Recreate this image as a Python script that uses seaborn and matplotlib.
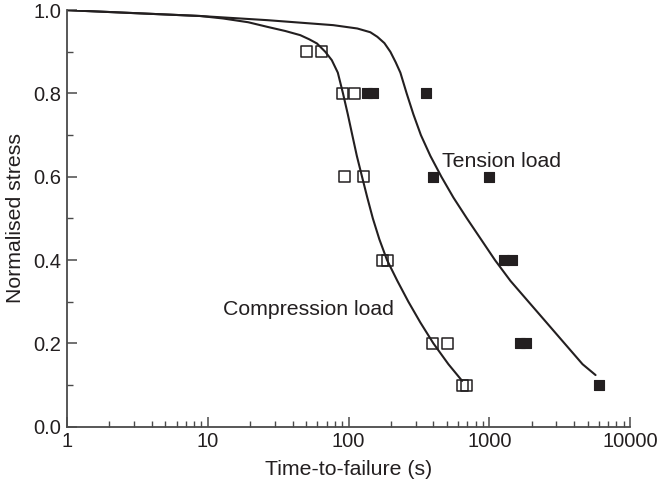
import matplotlib
matplotlib.use("Agg")
import matplotlib.pyplot as plt
import matplotlib.ticker as mticker
import pandas as pd
import seaborn as sns

# Measured times to failure (s) at each normalised stress level
comp_stress = [0.9, 0.9, 0.8, 0.8, 0.6, 0.6, 0.4, 0.4, 0.2, 0.2, 0.1, 0.1]
comp_time = [50, 64, 90, 110, 94, 127, 174, 189, 393, 507, 645, 688]

tens_stress = [0.8, 0.8, 0.8, 0.6, 0.6, 0.4, 0.4, 0.2, 0.2, 0.1]
tens_time = [135, 149, 357, 399, 991, 1282, 1462, 1653, 1824, 6050]

# Predicted stress-rupture curves
comp_curve_time = [1, 8.83, 12.87, 19.38, 26.45, 35.52, 45.42, 52.63, 59.70,
                   68.39, 76.07, 83.94, 91.39, 98.86, 106.4, 114.6, 124.8,
                   136.0, 148.9, 165.6, 187.8, 222.4, 266.3, 324.1, 401.0,
                   512.7, 641.8]
comp_curve_stress = [1.0, 0.986, 0.980, 0.971, 0.960, 0.950, 0.940, 0.930,
                     0.920, 0.900, 0.880, 0.850, 0.800, 0.750, 0.700, 0.650,
                     0.600, 0.550, 0.500, 0.450, 0.400, 0.350, 0.300, 0.250,
                     0.200, 0.150, 0.110]

tens_curve_time = [1, 8.83, 26.45, 77.97, 115.5, 142.9, 160.3, 179.8, 198.4,
                   216.3, 233.6, 259.0, 289.0, 326.8, 381.7, 457.1, 556.6,
                   694.0, 873.0, 1098, 1415, 1900, 2552, 3426, 4602, 5692]
tens_curve_stress = [1.0, 0.986, 0.976, 0.964, 0.956, 0.947, 0.936, 0.921,
                     0.900, 0.875, 0.850, 0.800, 0.750, 0.700, 0.650, 0.600,
                     0.550, 0.500, 0.450, 0.400, 0.350, 0.300, 0.250, 0.200,
                     0.150, 0.124]

x_ticks = [1, 10, 100, 1000, 10000]
x_tick_labels = ["1", "10", "100", "1000", "10000"]
y_ticks = [0.0, 0.2, 0.4, 0.6, 0.8, 1.0]
y_tick_labels = ["0.0", "0.2", "0.4", "0.6", "0.8", "1.0"]

sns.set_style("ticks")
plt.rcParams["font.family"] = ["Liberation Sans", "DejaVu Sans"]

ink = "#231f20"
axis_col = "#4a4a4a"
tick_fs = 14.5
text_fs = 15.3

fig = plt.figure(figsize=(6.59, 4.84), dpi=100)
ax = fig.add_axes([0.1017, 0.1184, 0.8543, 0.8606])

comp_curve = pd.DataFrame({"t": comp_curve_time, "s": comp_curve_stress})
tens_curve = pd.DataFrame({"t": tens_curve_time, "s": tens_curve_stress})
sns.lineplot(data=comp_curve, x="t", y="s", sort=False, estimator=None,
             color=ink, lw=1.5, ax=ax)
sns.lineplot(data=tens_curve, x="t", y="s", sort=False, estimator=None,
             color=ink, lw=1.5, ax=ax)

comp_pts = pd.DataFrame({"t": comp_time, "s": comp_stress})
tens_pts = pd.DataFrame({"t": tens_time, "s": tens_stress})
sns.scatterplot(data=comp_pts, x="t", y="s", marker="s", s=62,
                facecolor="none", edgecolor=ink, linewidth=1.1, ax=ax,
                zorder=3)
sns.scatterplot(data=tens_pts, x="t", y="s", marker="s", s=62,
                color=ink, edgecolor=ink, linewidth=0.8, ax=ax, zorder=3)

ax.set_xscale("log")
ax.set_xlim(1, 10000)
ax.set_ylim(0, 1.0)

ax.xaxis.set_major_locator(mticker.FixedLocator(x_ticks))
ax.xaxis.set_major_formatter(mticker.FixedFormatter(x_tick_labels))
ax.xaxis.set_minor_locator(mticker.LogLocator(base=10, subs=range(2, 10)))
ax.xaxis.set_minor_formatter(mticker.NullFormatter())
ax.yaxis.set_major_locator(mticker.FixedLocator(y_ticks))
ax.yaxis.set_major_formatter(mticker.FixedFormatter(y_tick_labels))
ax.yaxis.set_minor_locator(mticker.MultipleLocator(0.1))

ax.tick_params(which="major", direction="in", length=7, width=1.1,
               color=axis_col, labelsize=tick_fs, labelcolor=ink, pad=4)
ax.tick_params(which="minor", direction="in", length=4, width=1.0,
               color=axis_col)

for side in ("top", "right"):
    ax.spines[side].set_visible(False)
for side in ("left", "bottom"):
    ax.spines[side].set_color(axis_col)
    ax.spines[side].set_linewidth(1.3)

ax.set_xlabel("Time-to-failure (s)", fontsize=text_fs, color=ink, labelpad=6)
ax.set_ylabel("Normalised stress", fontsize=text_fs, color=ink, labelpad=6)

ax.text(462, 0.624, "Tension load", fontsize=text_fs, color=ink,
        ha="left", va="baseline")
ax.text(12.9, 0.268, "Compression load", fontsize=text_fs, color=ink,
        ha="left", va="baseline")

fig.savefig("out.png", dpi=100)
